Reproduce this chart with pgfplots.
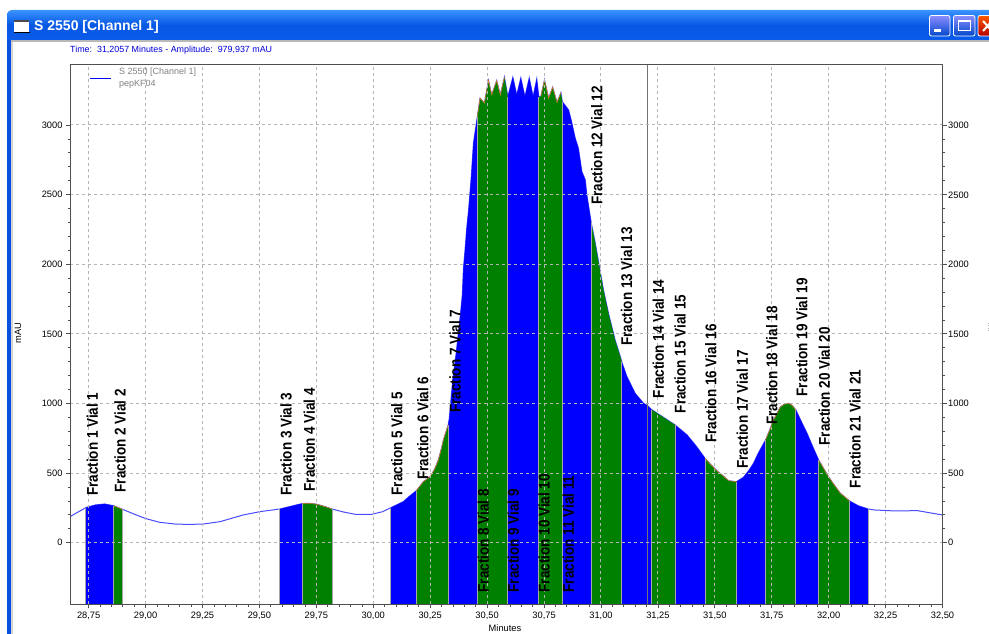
\documentclass[border=0pt]{standalone}
\usepackage{fontspec}
\setmainfont{Liberation Sans}
\usepackage{graphicx}
\usepackage{pgfplots}
\pgfplotsset{compat=1.18}
\definecolor{axc}{HTML}{505050}
\definecolor{gridc}{HTML}{B4B4B4}
\definecolor{barB}{HTML}{0000FF}
\definecolor{barG}{HTML}{008000}
\definecolor{lineB}{HTML}{4A4AFF}
\definecolor{edgeO}{HTML}{E88020}
\definecolor{tbTop}{HTML}{3A93FF}
\definecolor{tbMid}{HTML}{0757E3}
\definecolor{tbBot}{HTML}{0A5BEA}
\definecolor{frameB}{HTML}{0A50E0}
\newcommand{\frl}[3]{\node[rotate=90,anchor=west,inner sep=0pt,font=\fontsize{13.5}{14}\selectfont\bfseries] at (#1,#2) {\scalebox{1}[1.15]{#3}};}
\newcommand{\band}[2]{\addplot[fill=#1,draw=none] coordinates {#2};}
\begin{document}
\begin{tikzpicture}[x=1pt,y=1pt]
\path[use as bounding box] (0,0) rectangle (989,634);
\clip (0,0) rectangle (989,634);
\begin{axis}[
  at={(70pt,29.5pt)},anchor=south west,
  scale only axis,width=872.5pt,height=540.5pt,
  xmin=28.668,xmax=32.5,ymin=-444,ymax=3438,
  axis on top,
  axis line style={color=axc,line width=0.9pt},
  xtick={28.75,29,29.25,29.5,29.75,30,30.25,30.5,30.75,31,31.25,31.5,31.75,32,32.25,32.5},
  ytick={0,500,1000,1500,2000,2500,3000},
  minor x tick num=4,minor y tick num=4,
  tick align=outside,
  xtick pos=bottom,ytick pos=both,
  yticklabel pos=left,
  major tick length=4pt,minor tick length=2.5pt,
  tick style={color=axc,line width=0.7pt},
  grid=major,
  major grid style={color=gridc,dash pattern=on 3pt off 3pt,line width=1pt},
  ticklabel style={font=\fontsize{9.3}{10}\selectfont,color=black},
  xticklabel style={/pgf/number format/.cd,use comma,fixed,fixed zerofill,precision=2,assume math mode=true},
  yticklabel style={/pgf/number format/.cd,fixed,1000 sep={},assume math mode=true},
  unbounded coords=jump,
]
% whole trace
\addplot[lineB,line width=1pt] coordinates {
(28.668,187)(28.70,217)(28.741,254)(28.78,271)(28.82,278)(28.858,266)(28.898,240)
(28.95,205)(28.997,175)(29.03,160)(29.063,146)(29.129,134)(29.19,131)(29.254,134)(29.327,151)(29.38,176)(29.429,199)(29.503,223)
(29.59,242)(29.64,262)(29.693,283)(29.72,283)(29.752,276)(29.79,258)(29.818,242)(29.87,220)(29.92,204)(29.993,204)
(30.04,222)(30.077,251)(30.132,295)(30.16,335)(30.189,373)(30.22,438)(30.25,474)(30.27,530)(30.286,594)(30.30,680)(30.308,738)(30.329,845)
(30.334,895)(30.349,1168)(30.364,1360)(30.377,1552)(30.384,1660)(30.391,1779)(30.396,1971)(30.403,2103)(30.411,2270)(30.418,2378)(30.430,2620)(30.44,2871)(30.457,3060)
(30.469,3192)(30.488,3157)(30.506,3319)(30.52,3216)(30.542,3319)(30.558,3216)(30.576,3343)(30.591,3204)
(30.613,3343)(30.630,3216)(30.648,3338)(30.666,3204)(30.685,3338)(30.702,3204)(30.718,3331)(30.727,3204)(30.736,3204)
(30.752,3324)(30.770,3192)(30.788,3271)(30.807,3161)(30.824,3232)(30.830,3168)(30.858,3108)(30.869,3037)
(30.887,2905)(30.901,2833)(30.916,2665)(30.931,2606)(30.938,2498)(30.953,2342)(30.957,2300)(30.975,2151)(30.993,1983)(31.011,1815)
(31.033,1648)(31.062,1456)(31.087,1325)(31.092,1295)(31.114,1193)(31.150,1073)(31.187,1001)(31.204,985)(31.223,955)(31.27,905)(31.325,846)(31.378,774)(31.42,690)(31.457,606)(31.48,565)
(31.51,515)(31.54,475)(31.56,445)(31.595,438)(31.626,470)(31.65,520)(31.67,570)(31.69,640)(31.723,738)(31.74,805)(31.758,881)(31.787,973)(31.805,995)(31.824,1001)(31.84,985)
(31.856,953)(31.88,870)(31.905,786)(31.93,690)(31.956,594)(31.999,474)(32.02,425)(32.051,355)(32.07,330)(32.091,300)(32.13,265)(32.173,242)(32.20,235)(32.29,228)
(32.39,230)(32.50,199)};
% fractions
\band{barB}{(28.738,-444)(28.738,251)(28.78,271)(28.82,278)(28.860,265)(28.860,-444)}
\band{barG}{(28.860,-444)(28.860,265)(28.898,240)(28.898,-444)}
\band{barB}{(29.590,-444)(29.590,242)(29.64,262)(29.690,282)(29.690,-444)}
\band{barG}{(29.690,-444)(29.690,282)(29.72,283)(29.752,276)(29.79,258)(29.820,241)(29.820,-444)}
\band{barB}{(30.077,-444)(30.077,251)(30.132,295)(30.16,335)(30.189,373)(30.189,-444)}
\band{barG}{(30.189,-444)(30.189,373)(30.22,438)(30.25,474)(30.27,530)(30.286,594)(30.30,680)(30.308,738)(30.329,845)(30.329,-444)}
\band{barB}{(30.329,-444)(30.329,845)(30.334,895)(30.349,1168)(30.364,1360)(30.377,1552)(30.384,1660)(30.391,1779)(30.396,1971)(30.403,2103)(30.411,2270)(30.418,2378)(30.430,2620)(30.44,2871)(30.457,3060)(30.457,-444)}
\band{barG}{(30.457,-444)(30.457,3060)(30.469,3192)(30.488,3157)(30.506,3319)(30.52,3216)(30.542,3319)(30.558,3216)(30.576,3343)(30.591,3204)(30.591,-444)}
\band{barB}{(30.591,-444)(30.591,3204)(30.613,3343)(30.630,3216)(30.648,3338)(30.666,3204)(30.685,3338)(30.702,3204)(30.718,3331)(30.727,3204)(30.727,-444)}
\band{barG}{(30.727,-444)(30.727,3204)(30.736,3204)(30.752,3324)(30.770,3192)(30.788,3271)(30.807,3161)(30.824,3232)(30.830,3168)(30.830,-444)}
\band{barB}{(30.830,-444)(30.830,3168)(30.858,3108)(30.869,3037)(30.887,2905)(30.901,2833)(30.916,2665)(30.931,2606)(30.938,2498)(30.953,2342)(30.957,2300)(30.957,-444)}
\band{barG}{(30.957,-444)(30.957,2300)(30.975,2151)(30.993,1983)(31.011,1815)(31.033,1648)(31.062,1456)(31.087,1325)(31.092,1295)(31.092,-444)}
\band{barB}{(31.092,-444)(31.092,1295)(31.114,1193)(31.150,1073)(31.187,1001)(31.204,985)(31.223,955)(31.223,-444)}
\band{barG}{(31.223,-444)(31.223,955)(31.27,905)(31.325,846)(31.325,-444)}
\band{barB}{(31.325,-444)(31.325,846)(31.378,774)(31.42,690)(31.457,606)(31.457,-444)}
\band{barG}{(31.457,-444)(31.457,606)(31.48,565)(31.51,515)(31.54,475)(31.56,445)(31.595,438)(31.595,-444)}
\band{barB}{(31.595,-444)(31.595,438)(31.626,470)(31.65,520)(31.67,570)(31.69,640)(31.723,738)(31.723,-444)}
\band{barG}{(31.723,-444)(31.723,738)(31.74,805)(31.758,881)(31.787,973)(31.805,995)(31.824,1001)(31.84,985)(31.856,953)(31.856,-444)}
\band{barB}{(31.856,-444)(31.856,953)(31.88,870)(31.905,786)(31.93,690)(31.956,594)(31.956,-444)}
\band{barG}{(31.956,-444)(31.956,594)(31.999,474)(32.02,425)(32.051,355)(32.07,330)(32.091,300)(32.091,-444)}
\band{barB}{(32.091,-444)(32.091,300)(32.13,265)(32.173,242)(32.173,-444)}
% separators between fractions
\addplot[gray!70,line width=0.9pt] coordinates {
(28.738,-444)(28.738,251)(nan,nan)(28.860,-444)(28.860,265)(nan,nan)(28.898,-444)(28.898,240)(nan,nan)
(29.590,-444)(29.590,242)(nan,nan)(29.690,-444)(29.690,282)(nan,nan)(29.820,-444)(29.820,241)(nan,nan)
(30.077,-444)(30.077,251)(nan,nan)(30.189,-444)(30.189,373)(nan,nan)(30.329,-444)(30.329,845)(nan,nan)
(30.457,-444)(30.457,3060)(nan,nan)(30.591,-444)(30.591,3204)(nan,nan)(30.727,-444)(30.727,3204)(nan,nan)
(30.830,-444)(30.830,3168)(nan,nan)(30.957,-444)(30.957,2300)(nan,nan)(31.092,-444)(31.092,1295)(nan,nan)
(31.223,-444)(31.223,955)(nan,nan)(31.325,-444)(31.325,846)(nan,nan)(31.457,-444)(31.457,606)(nan,nan)
(31.595,-444)(31.595,438)(nan,nan)(31.723,-444)(31.723,738)(nan,nan)(31.856,-444)(31.856,953)(nan,nan)
(31.956,-444)(31.956,594)(nan,nan)(32.091,-444)(32.091,300)(nan,nan)(32.173,-444)(32.173,242)};
% orange rim on the green tops
\addplot[edgeO,line width=0.5pt] coordinates {(28.860,265)(28.898,240)};
\addplot[edgeO,line width=0.5pt] coordinates {(29.690,282)(29.72,283)(29.752,276)(29.79,258)(29.820,241)};
\addplot[edgeO,line width=0.5pt] coordinates {(30.189,373)(30.22,438)(30.25,474)(30.27,530)(30.286,594)(30.30,680)(30.308,738)(30.329,845)};
\addplot[edgeO,line width=0.5pt] coordinates {(30.457,3060)(30.469,3192)(30.488,3157)(30.506,3319)(30.52,3216)(30.542,3319)(30.558,3216)(30.576,3343)};
\addplot[edgeO,line width=0.5pt] coordinates {(30.736,3204)(30.752,3324)(30.770,3192)(30.788,3271)(30.807,3161)(30.824,3232)};
\addplot[edgeO,line width=0.5pt] coordinates {(31.457,606)(31.48,565)(31.51,515)(31.54,475)(31.56,445)(31.595,438)};
\addplot[edgeO,line width=0.5pt] coordinates {(31.723,738)(31.74,805)(31.758,881)(31.787,973)(31.805,995)(31.824,1001)(31.84,985)(31.856,953)};
\addplot[edgeO,line width=0.5pt] coordinates {(31.956,594)(31.999,474)(32.02,425)(32.051,355)(32.07,330)(32.091,300)};
% cursor
\addplot[axc!80,line width=0.8pt] coordinates {(31.2057,-444)(31.2057,3438)};
\end{axis}
\begin{scope}[yshift=634pt,y=-1pt]
% right-hand tick labels
\foreach \v/\yy in {3000/125.4,2500/195,2000/264.6,1500/334.2,1000/403.8,500/473.2,0/542.7}
  \node[anchor=west,inner sep=0pt,font=\fontsize{9.3}{10}\selectfont] at (948,\yy) {\v};
% axis titles
\node[rotate=90,font=\fontsize{9.3}{10}\selectfont] at (18,333) {mAU};
\node[inner sep=0pt,font=\fontsize{9.3}{10}\selectfont] at (505,628.5) {Minutes};
% fraction labels
\frl{92.3}{496}{Fraction 1 Vial 1}
\frl{120}{492.7}{Fraction 2 Vial 2}
\frl{286}{496}{Fraction 3 Vial 3}
\frl{309.3}{491.7}{Fraction 4 Vial 4}
\frl{396.7}{495.7}{Fraction 5 Vial 5}
\frl{422.7}{480}{Fraction 6 Vial 6}
\frl{455}{413}{Fraction 7 Vial 7}
\frl{483.3}{592.7}{Fraction 8 Vial 8}
\frl{513.3}{592.7}{Fraction 9 Vial 9}
\frl{544}{592.7}{Fraction 10 Vial 10}
\frl{568.3}{592.7}{Fraction 11 Vial 11}
\frl{596.7}{205}{Fraction 12 Vial 12}
\frl{626.7}{346}{Fraction 13 Vial 13}
\frl{658.3}{398.3}{Fraction 14 Vial 14}
\frl{680}{413.3}{Fraction 15 Vial 15}
\frl{710.7}{443}{Fraction 16 Vial 16}
\frl{742.3}{469}{Fraction 17 Vial 17}
\frl{771.7}{425}{Fraction 18 Vial 18}
\frl{801.7}{396.7}{Fraction 19 Vial 19}
\frl{824.3}{445.7}{Fraction 20 Vial 20}
\frl{855}{488.3}{Fraction 21 Vial 21}
% in-plot legend
\draw[barB,line width=0.8pt] (90,78) -- (111,78);
\node[anchor=west,inner sep=0pt,text=gray,font=\fontsize{9}{10}\selectfont] at (119,72.5) {S 2550 [Channel 1]};
\node[anchor=west,inner sep=0pt,text=gray,font=\fontsize{9}{10}\selectfont] at (119,84) {pepKF04};
% cursor readout
\node[anchor=west,inner sep=0pt,text=blue!85!black,font=\fontsize{8.9}{10}\selectfont] at (70,50.5) {Time:\ \ 31,2057 Minutes - Amplitude:\ \ 979,937 mAU};
% window frame
\fill[frameB] (7,20) rectangle (11,634);
\fill[gray!35] (11,40) rectangle (13,634);
\shade[top color=tbTop,bottom color=tbBot,middle color=tbMid]
  (7,40) -- (7,16) .. controls (7,12) and (9,10) .. (13,10) -- (989,10) -- (989,40) -- cycle;
\fill[gray!55] (11,40) rectangle (989,42);
\fill[white] (14,21) rectangle (29,32);
\fill[black] (14,32) rectangle (30,33);
\fill[black!70] (14,20) rectangle (29,22);
\node[anchor=west,inner sep=0pt,text=white,font=\fontsize{14}{15}\selectfont\bfseries] at (34,27) {S 2550 [Channel 1]};
\foreach \xa/\xb in {929.5/950,953.5/975}{
  \shade[top color=blue!45!white,bottom color=blue!65!cyan!80!black,draw=white,line width=0.8pt,rounded corners=2pt] (\xa,15.5) rectangle (\xb,36);
}
\fill[white] (934,29) rectangle (941,32);
\draw[white,line width=1pt] (958.5,21) rectangle (970,31);
\draw[white,line width=2pt] (958.5,21) -- (970,21);
\shade[top color=orange!70!red,bottom color=red!70!black,draw=white,line width=0.8pt,rounded corners=2pt] (978,15.5) rectangle (995,36);
\draw[white,line width=2pt] (983,21) -- (992,31) (992,21) -- (983,31);
\draw[gray!60,dash pattern=on 1pt off 1.5pt,line width=0.8pt] (988,323) -- (988,333);
\end{scope}
\end{tikzpicture}
\end{document}
